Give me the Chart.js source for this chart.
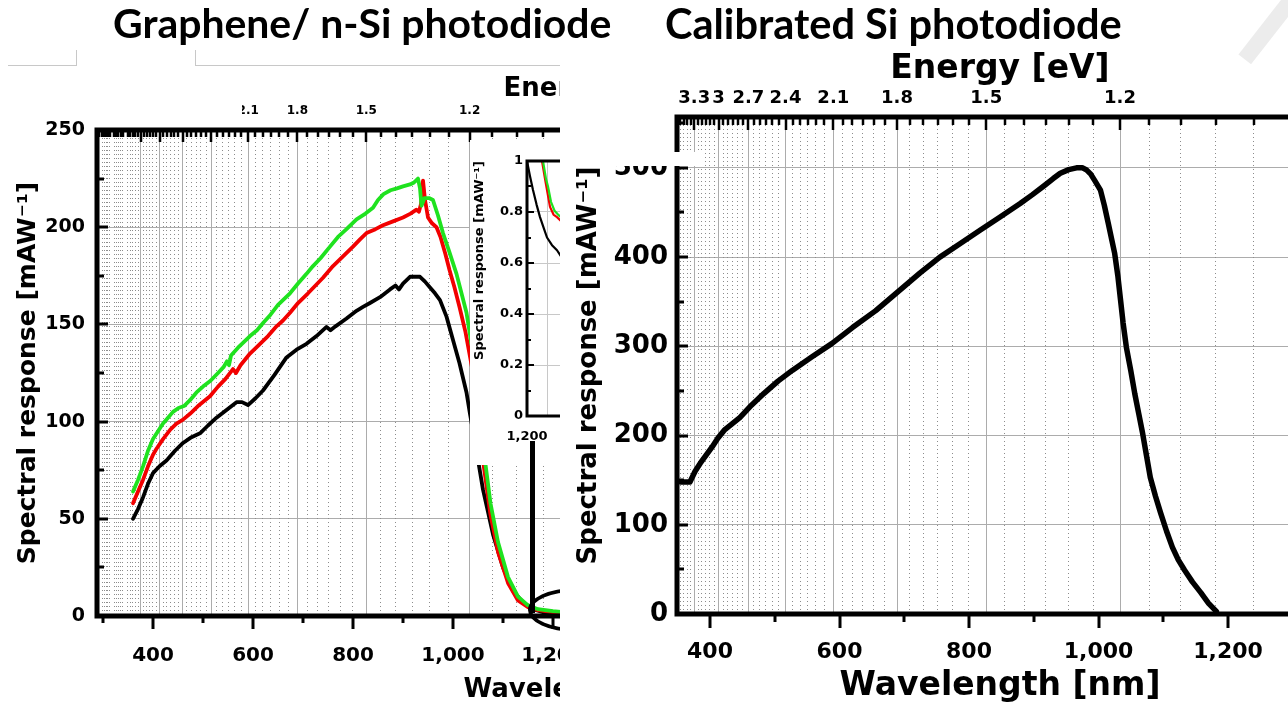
<!DOCTYPE html>
<html>
<head>
<meta charset="utf-8">
<script src="https://cdn.jsdelivr.net/npm/chart.js@4.4.1/dist/chart.umd.min.js"></script>
<style>
  body { margin: 0; background: #fff; }
  #page { position: relative; width: 1288px; height: 704px; overflow: hidden; background: #fff; }
  .box { position: absolute; overflow: hidden; }
  .title { position: absolute; top: 3px; font-family: Lato, "Open Sans", sans-serif; font-weight: 700;
           font-size: 36px; line-height: 1; white-space: nowrap; color: #000; z-index: 5; }
  canvas { display: block; }
</style>
</head>
<body>
<div id="page">
  <div class="box" style="left:0;top:0;width:560px;height:704px">
    <canvas id="leftChart" width="1083" height="704"></canvas>
    <div style="position:absolute;left:100px;top:88px;width:142px;height:36px;background:#fff"></div>
    <div class="box" style="left:470px;top:140px;width:90px;height:325px;background:#fff">
      <canvas id="insetChart" width="200" height="325"></canvas>
    </div>
    <div style="position:absolute;left:530px;top:441px;width:5px;height:172px;background:#000"></div>
    <div style="position:absolute;left:528px;top:588px;width:94px;height:44px;border:4px solid #000;border-radius:50%;box-sizing:border-box"></div>
    <div style="position:absolute;left:8px;top:50px;width:68px;height:15px;border-right:1px solid #c8c8c8;border-bottom:1px solid #c8c8c8"></div>
    <div style="position:absolute;left:195px;top:50px;width:380px;height:15px;border-left:1px solid #c8c8c8;border-bottom:1px solid #c8c8c8"></div>
  </div>
  <div class="box" style="left:560px;top:0;width:728px;height:704px">
    <canvas id="rightChart" width="763" height="704"></canvas>
    <div style="position:absolute;left:10px;top:152px;width:135px;height:14px;background:#fff"></div>
  </div>
  <div style="position:absolute;left:1262px;top:-14px;width:16px;height:82px;background:#ececec;transform:rotate(38deg)"></div>
  <div class="title" data-w="499" style="left:113px">Graphene/ n-Si photodiode</div>
  <div class="title" data-w="457" style="left:665px">Calibrated Si photodiode</div>
</div>

<script>
// photon energy <-> wavelength
const HC = 1239.84;

// graphene / n-Si photodiode (three samples)
const greenNm = [360,370,380,390,400,410,420,430,440,451,462,474,487,500,515,530,541,548,552,556,570,582,594,608,621,635,650,662,674,690,707,720,735,754,770,787,807,825,840,850,861,875,888,900,914,922,930,934,937,943,952,960,970,980,993,1007,1017,1027,1040,1050,1060,1075,1090,1110,1130,1150,1170,1200,1240];
const greenResp = [64,70,77,85,91,95,99,102,105,107,108,111,115,118,121,125,128,131,129,134,138,141,144,147,151,155,160,163,166,171,176,180,184,190,195,199,204,207,210,214,217,219,220,221,222,223,225,220,211,215,215,214,206,197,187,176,166,156,135,112,88,58,38,20,10,5.5,3.5,2.5,1.5];
const redNm = [360,370,380,390,400,407,420,435,447,460,474,490,514,530,545,560,566,575,594,610,630,647,660,674,690,710,725,740,760,780,800,815,827,845,860,880,900,915,927,932,936,940,944,950,958,967,975,985,993,1003,1013,1025,1040,1050,1060,1075,1090,1110,1130,1150,1170,1200,1240];
const redResp = [58,64,70,77,83,86,91,96,99,101,104,108,113,118,122,127,125,129,135,139,144,149,152,156,161,166,170,174,180,185,190,194,197,199,201,203,205,207,209,208,212,224,214,205,202,200,195,186,178,169,159,146,125,104,80,52,33,17,8,4.5,3,2,1.2];
const blackNm = [360,370,380,390,400,413,427,444,460,477,494,510,527,547,567,578,590,605,620,643,667,687,707,727,747,755,765,787,807,820,834,854,874,885,892,900,914,934,944,954,964,974,987,1000,1013,1027,1034,1045,1060,1080,1100,1120,1140,1160,1180,1200,1240];
const blackResp = [50,55,61,68,73.5,77,80,85,89,92,94,98,102,106,110,110,108.5,112,116,124,133,137,140,144,148.7,147,149,153,157,159,161,164,168,170,168,171,174.5,174.5,172,169,166,162.5,154,142,130,115,104,88,65,42,25,13,7,3.5,2,1.2,0.6];

// inset, near the band edge
const insetBlackNm = [1195,1200,1206,1212,1219,1226,1233,1240,1250,1260,1270,1280,1300,1340];
const insetBlackResp = [1.05,1.0,0.94,0.886,0.83,0.78,0.74,0.70,0.67,0.65,0.62,0.60,0.58,0.55];
const insetRedNm = [1222,1230,1236,1240,1246,1253,1260,1272,1290,1330];
const insetRedResp = [1.2,1.0,0.93,0.886,0.82,0.79,0.78,0.757,0.73,0.70];
const insetGreenNm = [1224,1232,1238,1242,1248,1255,1262,1274,1290,1330];
const insetGreenResp = [1.2,1.0,0.93,0.9,0.84,0.805,0.79,0.77,0.745,0.71];

// calibrated Si photodiode
const siNm = [355,362,369,377,385,394,403,412,422,434,446,464,483,505,527,557,588,620,656,690,724,755,786,817,848,879,898,916,930,941,954,966,975,981,988,994,1003,1009,1015,1020,1025,1030,1034,1038,1043,1050,1056,1062,1068,1074,1080,1088,1096,1105,1114,1123,1133,1145,1158,1170,1182];
const siResp = [148,148,148,160,169,178,187,197,206,213,220,234,247,261,273,288,303,321,340,361,382,400,415,430,445,460,470,480,488,494,498,500,500,498,493,486,475,458,438,421,404,378,352,326,299,272,247,225,203,178,153,132,113,93,75,61,49,36,24,12,3];

// ticks
const wlTicks = [300,400,500,600,700,800,900,1000,1100,1200,1300];
const energyMajor = [3.3, 3.0, 2.7, 2.4, 2.1, 1.8, 1.5, 1.2, 0.9];
const energyLabels = ['3.3', '3', '2.7', '2.4', '2.1', '1.8', '1.5', '1.2', '0.9'];
const leftYTicks = [0,25,50,75,100,125,150,175,200,225,250];
const rightYTicks = [0,50,100,150,200,250,300,350,400,450,500,550];
const insetYTicks = [0,0.1,0.2,0.3,0.4,0.5,0.6,0.7,0.8,0.9,1];
const insetXTicks = [1200, 1240];
const insetXLabels = ['1,200', ''];

// minor energy marks every 0.05 eV (majors are every 0.3 eV)
const energyMinor = [];
for (let k = 11; k <= 90; k++) if (k % 6 !== 0) energyMinor.push(k * 0.05);

const FONT = "'DejaVu Sans', Verdana, sans-serif";
const GRID = '#acacac';
const xy = (xs, ys) => xs.map((x, i) => ({ x: x, y: ys[i] }));
const isMajor = (v, s) => Math.abs(v / s - Math.round(v / s)) < 1e-6;
const bold = size => ({ family: FONT, size: size, weight: 'bold' });

// ticks drawn inward/outward and the heavy frame
const decor = {
  id: 'decor',
  afterDatasetsDraw(chart, args, o) {
    const { ctx, chartArea: a, scales } = chart;
    const seg = (x1, y1, x2, y2) => { ctx.beginPath(); ctx.moveTo(x1, y1); ctx.lineTo(x2, y2); ctx.stroke(); };
    ctx.save();
    ctx.strokeStyle = '#000';
    ctx.lineWidth = o.tickW;
    if (o.xLong) {
      scales.x.ticks.forEach(t => {
        const px = Math.round(scales.x.getPixelForValue(t.value));
        if (px < a.left || px > a.right) return;
        seg(px, a.bottom, px, a.bottom + (isMajor(t.value, o.xMajor) ? o.xLong : o.xShort));
      });
    }
    scales.y.ticks.forEach(t => {
      const py = Math.round(scales.y.getPixelForValue(t.value));
      seg(a.left, py, a.left + (isMajor(t.value, o.yMajor) ? o.yLong : o.yShort), py);
    });
    if (scales.eTop) {
      ctx.lineWidth = o.tickW - 0.5;
      [[scales.eMin, o.eShort], [scales.eTop, o.eLong]].forEach(([s, len]) => {
        s.ticks.forEach(t => {
          const px = Math.round(s.getPixelForValue(t.value));
          if (px < a.left || px > a.right) return;
          seg(px, a.top, px, a.top + len);
        });
      });
    }
    ctx.lineWidth = o.frame;
    ctx.lineJoin = 'miter';
    ctx.beginPath();
    ctx.moveTo(a.right + 20, a.top);
    ctx.lineTo(a.left, a.top);
    ctx.lineTo(a.left, a.bottom);
    ctx.lineTo(a.right + 20, a.bottom);
    ctx.stroke();
    ctx.restore();
  }
};

function panelOptions(p) {
  const energyScale = (list, labels) => function (s) {
    const keep = list.map((e, i) => ({ value: HC / e, label: labels ? labels[i] : '' }))
      .filter(t => t.value >= s.min && t.value <= s.max);
    s._eLab = keep.map(t => t.label);
    s.ticks = keep.map(t => ({ value: t.value }));
  };
  return {
    responsive: false,
    animation: false,
    layout: { autoPadding: false, padding: 0 },
    plugins: { legend: { display: false }, tooltip: { enabled: false }, decor: p.decor },
    scales: {
      x: {
        type: 'linear', position: 'bottom', min: p.xMin, max: p.xMax,
        afterFit: s => { s.height = p.H - p.bottom; },
        afterBuildTicks: s => { s.ticks = wlTicks.filter(v => v >= s.min && v <= s.max).map(v => ({ value: v })); },
        ticks: { autoSkip: false, maxRotation: 0, minRotation: 0, color: '#000', font: bold(p.xFont), padding: p.xPad,
                 callback: v => (v % 200 === 0 ? v.toLocaleString('en-US') : '') },
        grid: { display: false, drawTicks: false },
        border: { display: false },
        title: { display: true, text: 'Wavelength [nm]', color: '#000', font: bold(p.xTitle), padding: { top: 0, bottom: -2 } }
      },
      y: {
        type: 'linear', position: 'left', min: 0, max: p.yMax,
        afterFit: s => { s.width = p.left; },
        afterBuildTicks: s => { s.ticks = p.yTicks.map(v => ({ value: v })); },
        ticks: { autoSkip: false, color: '#000', font: bold(p.yFont), padding: p.yPad,
                 callback: v => (isMajor(v, p.decor.yMajor) ? String(v) : '') },
        grid: { drawTicks: false, lineWidth: 1, color: c => (isMajor(c.tick.value, p.decor.yMajor) ? GRID : 'rgba(0,0,0,0)') },
        border: { display: false },
        title: { display: true, text: 'Spectral response [mAW\u207B\u00B9]', color: '#000', font: bold(p.yTitle), padding: { top: p.yTitlePad } }
      },
      eTop: {
        type: 'linear', position: 'top', min: p.xMin, max: p.xMax,
        afterFit: s => { s.height = p.top; },
        afterBuildTicks: energyScale(energyMajor, energyLabels),
        ticks: { autoSkip: false, maxRotation: 0, minRotation: 0, color: '#000', font: bold(p.eFont), padding: p.ePad,
                 callback: function (v, i) { return this._eLab[i]; } },
        grid: { drawTicks: false, lineWidth: 1, color: GRID },
        border: { display: false },
        title: { display: true, text: 'Energy [eV]', color: '#000', font: bold(p.eTitle), padding: { top: p.eTitlePad } }
      },
      eMin: {
        type: 'linear', position: 'top', min: p.xMin, max: p.xMax,
        afterFit: s => { s.height = 0; },
        afterBuildTicks: energyScale(energyMinor, null),
        ticks: { display: false },
        grid: { drawTicks: false, lineWidth: 1, color: '#8c8c8c' },
        border: { display: false, dash: [1, 3] }
      }
    }
  };
}

const line = (data, color, width) => ({ data: data, borderColor: color, borderWidth: width, pointRadius: 0,
  tension: 0, fill: false, borderJoinStyle: 'round', borderCapStyle: 'round' });

new Chart(document.getElementById('leftChart'), {
  type: 'line',
  data: { datasets: [
    line(xy(greenNm, greenResp), '#1fe21f', 3.8),
    line(xy(redNm, redResp), '#f20000', 3.8),
    line(xy(blackNm, blackResp), '#000', 3.8)
  ] },
  options: panelOptions({
    H: 704, left: 97, top: 130, bottom: 616, xMin: 288, xMax: 2260, yMax: 250, yTicks: leftYTicks,
    xFont: 20, xPad: 28, xTitle: 26, yFont: 19, yPad: 12, yTitle: 25, yTitlePad: 13,
    eFont: 12, ePad: 12, eTitle: 26, eTitlePad: 74,
    decor: { tickW: 3, xMajor: 200, xLong: 13, xShort: 7, yMajor: 50, yLong: 11, yShort: 7, eLong: 12, eShort: 7, frame: 5 }
  }),
  plugins: [decor]
});

new Chart(document.getElementById('rightChart'), {
  type: 'line',
  data: { datasets: [line(xy(siNm, siResp), '#000', 5.5)] },
  options: panelOptions({
    H: 704, left: 117, top: 117, bottom: 614, xMin: 349, xMax: 1346.7, yMax: 557, yTicks: rightYTicks,
    xFont: 22, xPad: 25, xTitle: 33, yFont: 26, yPad: 9, yTitle: 26, yTitlePad: 14,
    eFont: 18, ePad: 8, eTitle: 33, eTitlePad: 50,
    decor: { tickW: 3, xMajor: 200, xLong: 14, xShort: 8, yMajor: 100, yLong: 11, yShort: 7, eLong: 13, eShort: 8, frame: 5 }
  }),
  plugins: [decor]
});

new Chart(document.getElementById('insetChart'), {
  type: 'line',
  data: { datasets: [
    line(xy(insetGreenNm, insetGreenResp), '#1fe21f', 2.2),
    line(xy(insetRedNm, insetRedResp), '#f20000', 2.2),
    line(xy(insetBlackNm, insetBlackResp), '#000', 2.2)
  ] },
  options: {
    responsive: false,
    animation: false,
    layout: { autoPadding: false, padding: { top: 21 } },
    plugins: { legend: { display: false }, tooltip: { enabled: false },
               decor: { tickW: 2, xLong: 0, yMajor: 0.2, yLong: 7, yShort: 4, frame: 3 } },
    scales: {
      x: {
        type: 'linear', min: 1200, max: 1486,
        afterFit: s => { s.height = 49; },
        afterBuildTicks: s => { s.ticks = insetXTicks.map(v => ({ value: v })); },
        ticks: { autoSkip: false, maxRotation: 0, color: '#000', font: bold(13), padding: 13,
                 callback: (v, i) => insetXLabels[i] },
        grid: { drawTicks: false, color: c => (c.index === 0 ? 'rgba(0,0,0,0)' : '#c8c8c8') },
        border: { display: false }
      },
      y: {
        type: 'linear', min: 0, max: 1,
        afterFit: s => { s.width = 57; },
        afterBuildTicks: s => { s.ticks = insetYTicks.map(v => ({ value: v })); },
        ticks: { autoSkip: false, color: '#000', font: bold(13), padding: 4,
                 callback: v => (isMajor(v, 0.2) ? String(+v.toFixed(1)) : '') },
        grid: { drawTicks: false, color: c => (isMajor(c.tick.value, 0.2) ? '#c8c8c8' : 'rgba(0,0,0,0)') },
        border: { display: false },
        title: { display: true, text: 'Spectral response [mAW\u207B\u00B9]', align: 'end', color: '#000',
                 font: bold(13), padding: { top: 2 } }
      }
    }
  },
  plugins: [decor]
});

// size the two headings to the widths they take in the figure
document.querySelectorAll('.title').forEach(el => {
  el.style.fontSize = (36 * (+el.dataset.w) / el.offsetWidth) + 'px';
});
</script>
</body>
</html>
